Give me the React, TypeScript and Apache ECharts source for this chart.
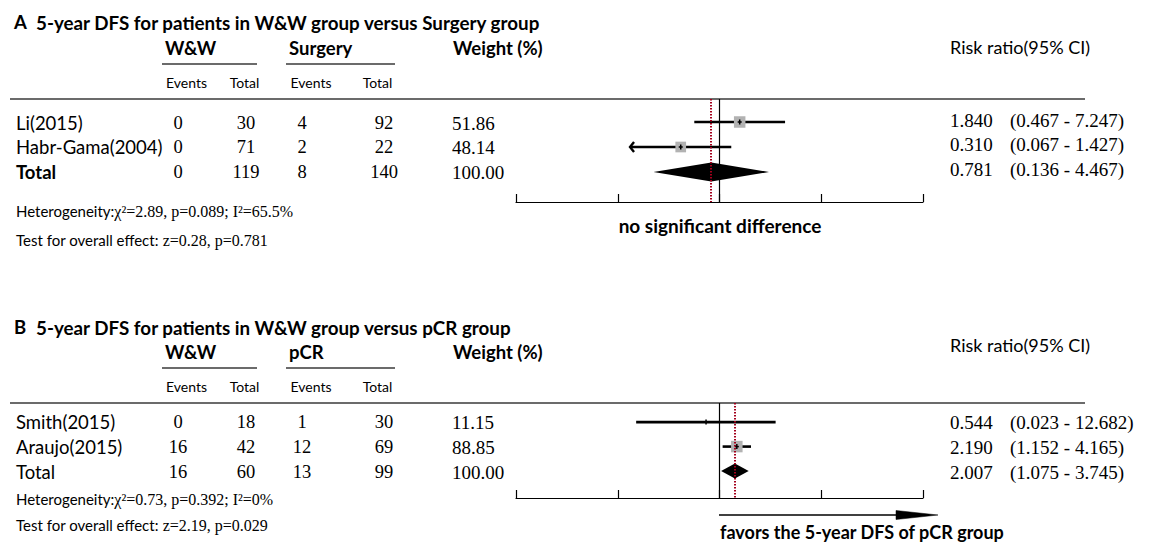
import React, { useEffect, useRef } from "react";
import * as echarts from "echarts";

// ---------- DATA ----------
// Panel A: W&W vs Surgery
const studiesA = ["Li(2015)", "Habr-Gama(2004)"];
const wwEventsA = [0, 0];
const wwTotalA = [30, 71];
const ctrlEventsA = [4, 2];
const ctrlTotalA = [92, 22];
const weightA = [51.86, 48.14];
const rrA = [1.84, 0.31];
const rrLoA = [0.467, 0.067];
const rrHiA = [7.247, 1.427];
const arrowLoA = [false, true];
const pooledA = { wwEvents: 0, wwTotal: 119, ctrlEvents: 8, ctrlTotal: 140, weight: 100.0, rr: 0.781, lo: 0.136, hi: 4.467 };
const hetA = ["χ²=2.89, p=0.089; I²=65.5%", "z=0.28, p=0.781"];

// Panel B: W&W vs pCR
const studiesB = ["Smith(2015)", "Araujo(2015)"];
const wwEventsB = [0, 16];
const wwTotalB = [18, 42];
const ctrlEventsB = [1, 12];
const ctrlTotalB = [30, 69];
const weightB = [11.15, 88.85];
const rrB = [0.544, 2.19];
const rrLoB = [0.023, 1.152];
const rrHiB = [12.682, 4.165];
const arrowLoB = [false, false];
const pooledB = { wwEvents: 16, wwTotal: 60, ctrlEvents: 13, ctrlTotal: 99, weight: 100.0, rr: 2.007, lo: 1.075, hi: 3.745 };
const hetB = ["χ²=0.73, p=0.392; I²=0%", "z=2.19, p=0.029"];

// ---------- STYLE / LAYOUT ----------
const SANS = 'Lato, "Noto Sans", sans-serif';
const SERIF = '"Liberation Serif", "DejaVu Serif", serif';

const panels = [
  {
    letter: "A",
    title: "5-year DFS for patients in W&W group versus Surgery group",
    ctrlName: "Surgery",
    studies: studiesA, wwE: wwEventsA, wwT: wwTotalA, cE: ctrlEventsA, cT: ctrlTotalA,
    w: weightA, rr: rrA, lo: rrLoA, hi: rrHiA, arrow: arrowLoA, pooled: pooledA, het: hetA,
    totalBold: true,
    L: { titleY: 22, headY: 48, ulY: 64, subY: 82, ruleY: 99, rowY: [123, 147, 172], hetY: 211, testY: 240, rrHeadY: 47, rrRowY: [120, 144, 169] },
    grid: { top: 99, height: 103 }, xSpan: 2.67, xInt: 1.335, yMin: -0.92, yMax: 3.2, diamondH: 9.5,
  },
  {
    letter: "B",
    title: "5-year DFS for patients in W&W group versus pCR group",
    ctrlName: "pCR",
    studies: studiesB, wwE: wwEventsB, wwT: wwTotalB, cE: ctrlEventsB, cT: ctrlTotalB,
    w: weightB, rr: rrB, lo: rrLoB, hi: rrHiB, arrow: arrowLoB, pooled: pooledB, het: hetB,
    totalBold: false,
    L: { titleY: 327, headY: 352, ulY: 368, subY: 386, ruleY: 403, rowY: [422, 447, 472], hetY: 499, testY: 525, rrHeadY: 345, rrRowY: [422, 447, 472] },
    grid: { top: 403, height: 95 }, xSpan: 4, xInt: 2, yMin: -0.78, yMax: 3.1, diamondH: 7.5,
  },
];

const COL = { name: 16, e1: 178, t1: 246, e2: 302, t2: 384, weight: 452, rr: 950 };

function txt(text: string, x: number, y: number, size: number, opts: any = {}) {
  return {
    type: "text",
    x,
    y,
    silent: true,
    style: {
      text,
      fill: "#000",
      fontSize: size,
      fontFamily: opts.family || SANS,
      fontWeight: opts.bold ? "bold" : "normal",
      align: opts.align || "left",
      verticalAlign: "middle",
      textAlign: opts.align || "left",
      textVerticalAlign: "middle",
      ...(opts.rich ? { rich: opts.rich } : {}),
    },
  };
}

function hline(x1: number, x2: number, y: number, w = 1.3, color = "#3a3a3a") {
  return { type: "line", silent: true, shape: { x1, y1: y, x2, y2: y }, style: { stroke: color, lineWidth: w } };
}

const fmt3 = (v: number) => v.toFixed(3);

const rrRich = {
  v: { fontFamily: SERIF, fontSize: 19, fill: "#000", width: 60 },
  c: { fontFamily: SERIF, fontSize: 19, fill: "#000" },
};

function buildGraphics() {
  const g: any[] = [];
  panels.forEach((p) => {
    const L = p.L;
    g.push(txt(p.letter, 14, L.titleY, 18.5, { bold: true }));
    g.push(txt(p.title, 36, L.titleY, 18.8, { bold: true }));
    g.push(txt("W&W", 165, L.headY, 18.5, { bold: true }));
    g.push(txt(p.ctrlName, 289, L.headY, 18.5, { bold: true }));
    g.push(txt("Weight (%)", 453, L.headY, 18.5, { bold: true }));
    g.push(hline(162, 257, L.ulY, 1.5));
    g.push(hline(286, 395, L.ulY, 1.5));
    g.push(txt("Events", 186.5, L.subY, 14, { align: "center" }));
    g.push(txt("Total", 244.5, L.subY, 14, { align: "center" }));
    g.push(txt("Events", 311, L.subY, 14, { align: "center" }));
    g.push(txt("Total", 377.5, L.subY, 14, { align: "center" }));
    g.push(hline(10, 1085, L.ruleY, 1.5));
    g.push(txt("Risk ratio(95% CI)", COL.rr, L.rrHeadY, 18));

    const rows = p.studies.map((s, i) => ({
      name: s, bold: false, e1: p.wwE[i], t1: p.wwT[i], e2: p.cE[i], t2: p.cT[i], w: p.w[i], rr: p.rr[i], lo: p.lo[i], hi: p.hi[i],
    }));
    rows.push({
      name: "Total", bold: p.totalBold, e1: p.pooled.wwEvents, t1: p.pooled.wwTotal, e2: p.pooled.ctrlEvents, t2: p.pooled.ctrlTotal,
      w: p.pooled.weight, rr: p.pooled.rr, lo: p.pooled.lo, hi: p.pooled.hi,
    });
    rows.forEach((r, i) => {
      const y = L.rowY[i];
      g.push(txt(r.name, COL.name, y, 18.5, { bold: r.bold }));
      g.push(txt(String(r.e1), COL.e1, y, 18.5, { family: SERIF, align: "center" }));
      g.push(txt(String(r.t1), COL.t1, y, 18.5, { family: SERIF, align: "center" }));
      g.push(txt(String(r.e2), COL.e2, y, 18.5, { family: SERIF, align: "center" }));
      g.push(txt(String(r.t2), COL.t2, y, 18.5, { family: SERIF, align: "center" }));
      g.push(txt(r.w.toFixed(2), COL.weight, y, 19, { family: SERIF }));
      g.push(txt(`{v|${fmt3(r.rr)}}{c|(${fmt3(r.lo)} - ${fmt3(r.hi)})}`, COL.rr, L.rrRowY[i], 19, { family: SERIF, rich: rrRich }));
    });

    const rich = {
      a: { fontFamily: SANS, fontSize: 15, fill: "#000" },
      b: { fontFamily: SERIF, fontSize: 16, fill: "#000" },
    };
    g.push(txt(`{a|Heterogeneity:}{b|${p.het[0]}}`, COL.name, L.hetY, 15, { rich }));
    g.push(txt(`{a|Test for overall effect:}{b| ${p.het[1]}}`, COL.name, L.testY, 15, { rich }));
  });

  // annotations under the forest plots
  g.push(txt("no significant difference", 720, 225, 19, { bold: true, align: "center" }));
  g.push(txt("favors the 5-year DFS of pCR group", 720, 532, 18, { bold: true }));
  g.push({ type: "line", silent: true, shape: { x1: 719, y1: 515, x2: 900, y2: 515 }, style: { stroke: "#000", lineWidth: 1.5 } });
  g.push({ type: "polygon", silent: true, shape: { points: [[896, 510.5], [938, 515], [896, 519.5]] }, style: { fill: "#000", stroke: "#000", lineWidth: 0.5 } });
  return g;
}

function panelSeries(p: any, idx: number) {
  const maxW = Math.max(...p.w);
  const data: any[] = p.studies.map((_: string, i: number) => [
    Math.log10(p.lo[i]), Math.log10(p.hi[i]), Math.log10(p.rr[i]), i, p.w[i] / maxW, 0, p.arrow[i] ? 1 : 0,
  ]);
  data.push([Math.log10(p.pooled.lo), Math.log10(p.pooled.hi), Math.log10(p.pooled.rr), p.studies.length, 1, 1, 0]);
  const dh = p.diamondH;
  return {
    type: "custom",
    xAxisIndex: idx,
    yAxisIndex: idx,
    clip: false,
    silent: true,
    encode: { x: [0, 1, 2], y: 3 },
    data,
    renderItem: (params: any, api: any) => {
      const lo = api.value(0), hi = api.value(1), est = api.value(2), row = api.value(3);
      const rel = api.value(4), kind = api.value(5), arrow = api.value(6);
      const a = api.coord([lo, row]);
      const b = api.coord([hi, row]);
      const c = api.coord([est, row]);
      if (kind === 1) {
        return {
          type: "polygon",
          shape: { points: [[a[0], c[1]], [c[0], c[1] - dh], [b[0], c[1]], [c[0], c[1] + dh]] },
          style: { fill: "#000" },
        };
      }
      const s = 11.5 * rel;
      const children: any[] = [
        { type: "line", shape: { x1: a[0], y1: a[1], x2: b[0], y2: b[1] }, style: { stroke: "#000", lineWidth: 2.6 } },
        { type: "rect", shape: { x: c[0] - s / 2, y: c[1] - s / 2, width: s, height: s }, style: { fill: "#b2b2b2" } },
        { type: "line", shape: { x1: c[0] - 2, y1: c[1], x2: c[0] + 2, y2: c[1] }, style: { stroke: "#000", lineWidth: 1.5 } },
        { type: "line", shape: { x1: c[0], y1: c[1] - 2.5, x2: c[0], y2: c[1] + 2.5 }, style: { stroke: "#000", lineWidth: 1.5 } },
      ];
      if (arrow) {
        children.push({
          type: "polyline",
          shape: { points: [[a[0] + 4, a[1] - 5], [a[0], a[1]], [a[0] + 4, a[1] + 5]] },
          style: { stroke: "#000", lineWidth: 2.4, fill: "none" },
        });
      }
      return { type: "group", children };
    },
    markLine: {
      silent: true,
      symbol: ["none", "none"],
      label: { show: false },
      animation: false,
      data: [
        { xAxis: 0, lineStyle: { color: "#000", width: 1.2, type: "solid" } },
        { xAxis: Math.log10(p.pooled.rr), lineStyle: { color: "#a3001c", width: 2, type: [1.5, 1.5] } },
      ],
    },
  };
}

export default function App() {
  const ref = useRef<HTMLDivElement>(null);
  useEffect(() => {
    if (!ref.current) return;
    const chart = echarts.init(ref.current, undefined, { renderer: "svg" });
    const option: any = {
      animation: false,
      backgroundColor: "#fff",
      grid: panels.map((p) => ({ left: 516, width: 407, top: p.grid.top, height: p.grid.height })),
      xAxis: panels.map((p, i) => ({
        type: "value",
        gridIndex: i,
        min: -p.xSpan,
        max: p.xSpan,
        interval: p.xInt,
        axisLine: { show: true, onZero: false, lineStyle: { color: "#000", width: 1.2 } },
        axisTick: { show: true, inside: true, length: 8, lineStyle: { color: "#000", width: 1.2 } },
        axisLabel: { show: false },
        splitLine: { show: false },
      })),
      yAxis: panels.map((p, i) => ({
        type: "value",
        gridIndex: i,
        inverse: true,
        min: p.yMin,
        max: p.yMax,
        show: false,
        splitLine: { show: false },
      })),
      series: panels.map((p, i) => panelSeries(p, i)),
      graphic: { elements: buildGraphics() },
    };
    chart.setOption(option);
    return () => chart.dispose();
  }, []);
  return <div ref={ref} style={{ position: "absolute", left: 0, top: 0, width: 1157, height: 549, background: "#fff" }} />;
}
